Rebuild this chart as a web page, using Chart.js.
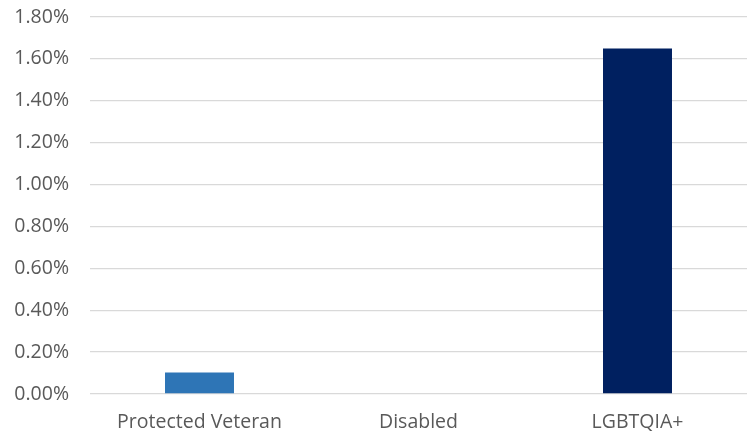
<!DOCTYPE html>
<html>
<head>
<meta charset="utf-8">
<script src="https://cdn.jsdelivr.net/npm/chart.js@4"></script>
<style>
  html, body { margin: 0; padding: 0; background: #fff; }
  #wrap { width: 754px; height: 434px; }
</style>
</head>
<body>
<div id="wrap"><canvas id="grafik"></canvas></div>
<script>
const categories = ['Protected Veteran', 'Disabled', 'LGBTQIA+'];
const shares = [0.00103, 0, 0.0165];
const barColors = ['#2e75b6', '#2e75b6', '#002060'];

document.addEventListener('DOMContentLoaded', function() {
    const ctx = document.getElementById('grafik').getContext('2d');
    Chart.defaults.font.family = '"Open Sans", sans-serif';
    new Chart(ctx, {
        type: 'bar',
        data: {
            labels: categories,
            datasets: [{
                data: shares,
                backgroundColor: barColors,
                borderWidth: 0,
                categoryPercentage: 0.315,
                barPercentage: 1
            }]
        },
        options: {
            responsive: true,
            maintainAspectRatio: false,
            animation: false,
            layout: { padding: { top: 17, right: 7, bottom: 0, left: 0 } },
            plugins: { legend: { display: false }, tooltip: { enabled: false } },
            scales: {
                y: {
                    min: 0,
                    max: 0.018,
                    afterFit: function(scale) {
                        scale.width = 90;
                        scale.paddingTop = 0;
                        scale.paddingBottom = 0;
                    },
                    border: { display: false },
                    grid: { color: '#d9d9d9', lineWidth: 1.3, drawTicks: false },
                    ticks: {
                        stepSize: 0.002,
                        padding: 21,
                        color: '#595959',
                        font: { size: 19.5 },
                        callback: function(value) { return (value * 100).toFixed(2) + '%'; }
                    }
                },
                x: {
                    afterFit: function(scale) {
                        scale.height = 40;
                        scale.paddingLeft = 0;
                        scale.paddingRight = 0;
                    },
                    border: { display: false },
                    grid: { display: false, drawTicks: false },
                    ticks: { padding: 17, color: '#595959', font: { size: 19.5 } }
                }
            }
        }
    });
});
</script>
</body>
</html>
